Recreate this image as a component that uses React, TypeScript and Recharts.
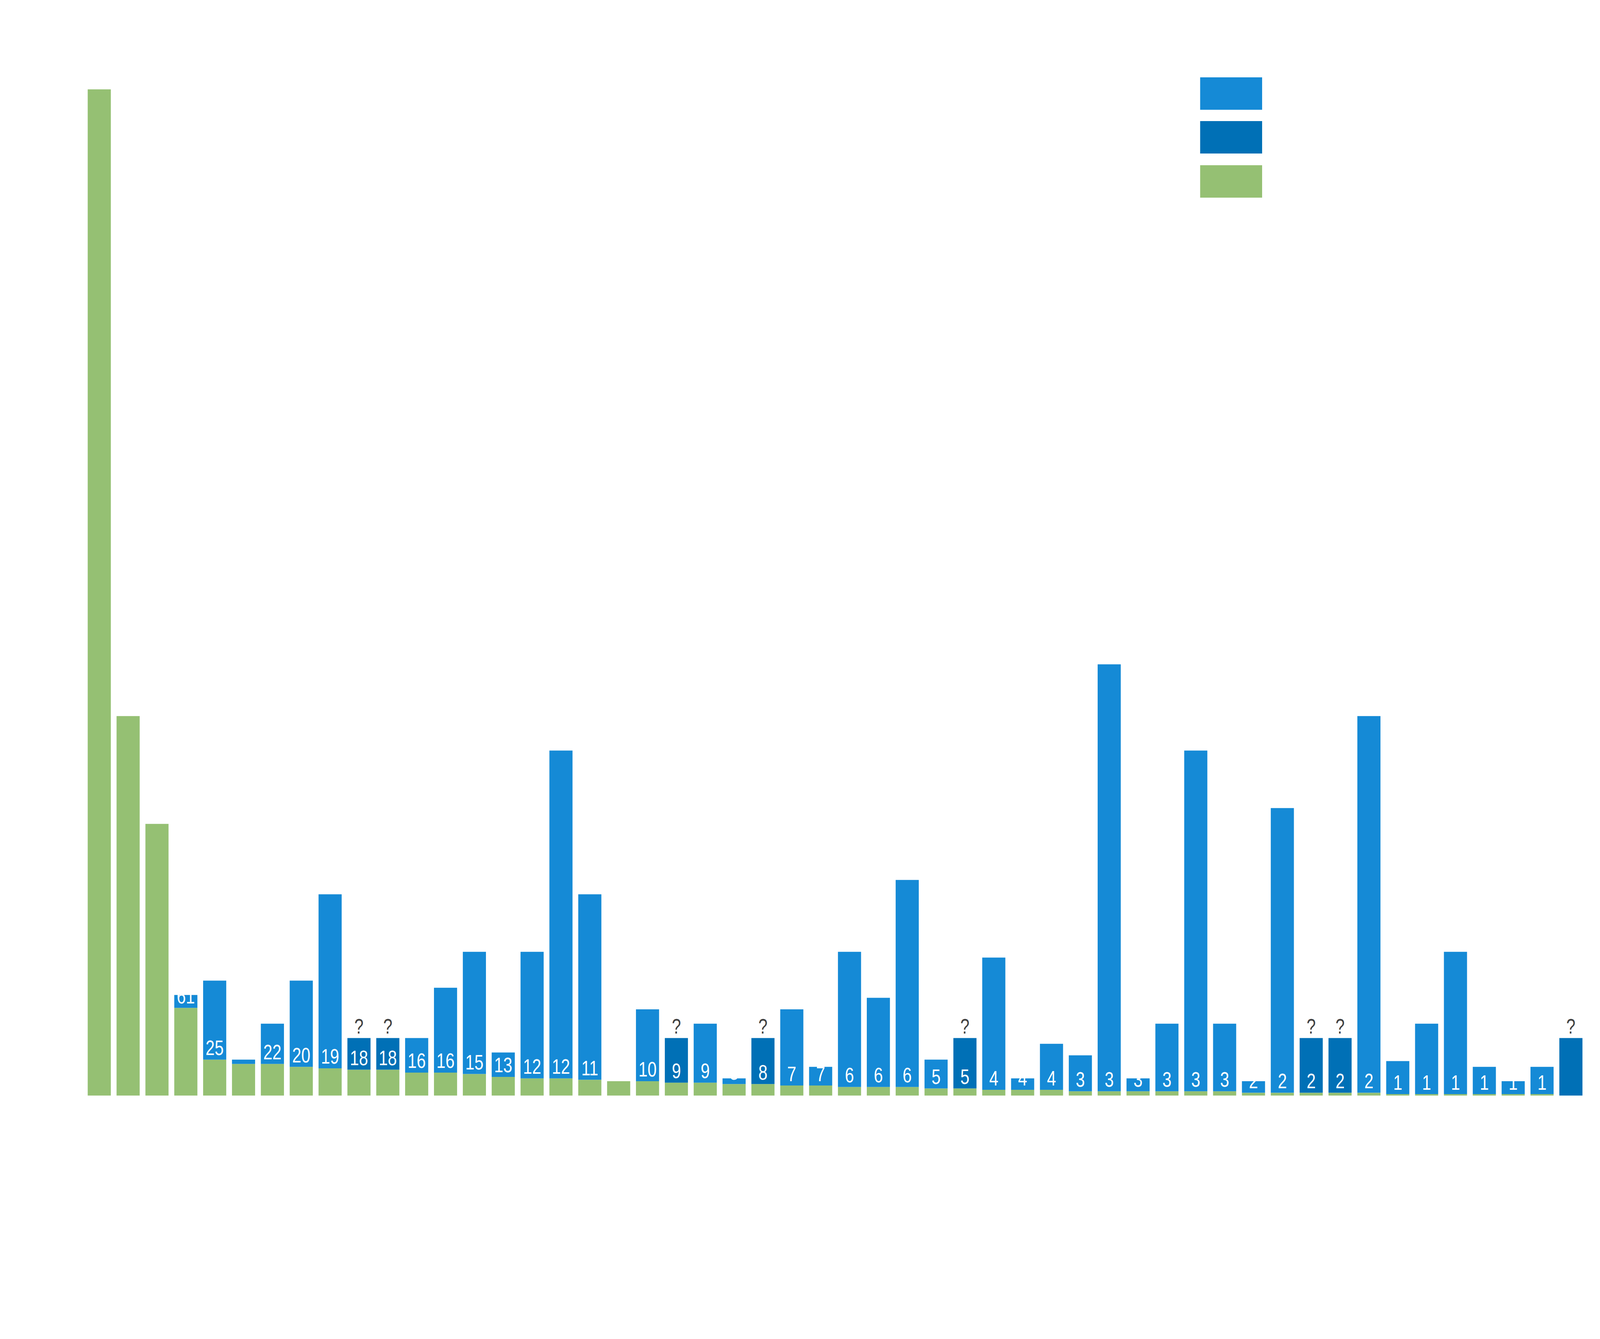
import React from 'react';
import { BarChart, Bar, XAxis, YAxis, Cell, LabelList, Legend } from 'recharts';

// ---- data ----
const categories = [
  '1', '2', '3', '4', '5', '6', '7', '8', '9', '10',
  '11', '12', '13', '14', '15', '16', '17', '18', '19', '20',
  '21', '22', '23', '24', '25', '26', '27', '28', '29', '30',
  '31', '32', '33', '34', '35', '36', '37', '38', '39', '40',
  '41', '42', '43', '44', '45', '46', '47', '48', '49', '50',
  '51', '52',
];

// lower (green) segment – also the value printed in each bar
const greenValues = [
  700, 264, 189, 61, 25, 22, 22, 20, 19, 18,
  18, 16, 16, 15, 13, 12, 12, 11, 10, 10,
  9, 9, 8, 8, 7, 7, 6, 6, 6, 5,
  5, 4, 4, 4, 3, 3, 3, 3, 3, 3,
  2, 2, 2, 2, 2, 1, 1, 1, 1, 1,
  1, 0,
];

// upper (blue) segment stacked on top
const blueValues = [
  0, 0, 0, 9, 55, 3, 28, 60, 121, 22,
  22, 24, 59, 85, 17, 88, 228, 129, 0, 50,
  31, 41, 4, 32, 53, 13, 94, 62, 144, 20,
  35, 92, 8, 32, 25, 297, 9, 47, 237, 47,
  8, 198, 38, 38, 262, 23, 49, 99, 19, 9,
  19, 40,
];

// bars drawn in dark blue with a "?" above
const uncertainFlags = [
  false, false, false, false, false, false, false, false, false, true,
  true, false, false, false, false, false, false, false, false, false,
  true, false, false, true, false, false, false, false, false, false,
  true, false, false, false, false, false, false, false, false, false,
  false, false, true, true, false, false, false, false, false, false,
  false, true,
];

const legendColors = ['#158AD6', '#0070B6', '#95C073'];

const GREEN = '#95C073';
const BLUE = '#158AD6';
const DARK = '#0070B6';
const FONT = '"Liberation Sans", Arial, Helvetica, sans-serif';

const data = categories.map((c, i) => ({
  cat: c,
  green: greenValues[i],
  blue: blueValues[i],
}));

// layout is designed on a 5190 x 3428 canvas, then fitted to the real viewport
const DESIGN_W = 5190;
const DESIGN_H = 3428;
const viewW = typeof window !== 'undefined' && window.innerWidth ? window.innerWidth : DESIGN_W;
const viewH = typeof window !== 'undefined' && window.innerHeight ? window.innerHeight : DESIGN_H;
const SX = Math.min(1, viewW / DESIGN_W);
const SY = Math.min(1, viewH / DESIGN_H);

const M_LEFT = 275.5;
const M_RIGHT = 47.3;
const M_TOP = 228.8;
const M_BOTTOM = 623.2;
const BAND = (DESIGN_W - M_LEFT - M_RIGHT) / categories.length;

const getBox = (props: any) => {
  const vb = props.viewBox && typeof props.viewBox.x === 'number' ? props.viewBox : props;
  return { x: Number(vb.x), y: Number(vb.y), width: Number(vb.width), height: Number(vb.height) };
};

// category of a label, from where its bar sits on the band scale
const indexOf = (cx: number) => {
  const i = Math.floor((cx - M_LEFT) / BAND);
  return Math.max(0, Math.min(categories.length - 1, i));
};

const GreenLabel = (props: any) => {
  const { x, y, width, height } = getBox(props);
  const cx = x + width / 2;
  const idx = indexOf(cx);
  const v = greenValues[idx];
  if (!v || !blueValues[idx]) return null;
  return (
    <text x={cx} y={y + height - 11.5} textAnchor="middle" fill="#ffffff" fontSize={53} fontFamily={FONT}>
      {v}
    </text>
  );
};

const QuestionLabel = (props: any) => {
  const { x, y, width } = getBox(props);
  const cx = x + width / 2;
  const idx = indexOf(cx);
  if (!uncertainFlags[idx]) return null;
  return (
    <text x={cx} y={y - 11.5} textAnchor="middle" fill="#404040" fontSize={53} fontFamily={FONT}>
      ?
    </text>
  );
};

const LegendBoxes = () => (
  <div style={{ position: 'relative', width: 201, height: 308 }}>
    {legendColors.map((c, i) => (
      <div
        key={c}
        style={{ position: 'absolute', left: 0, top: i * 112.5, width: 201, height: 83, background: c }}
      />
    ))}
  </div>
);

export default function App() {
  return (
    <div style={{ width: DESIGN_W * SX, height: DESIGN_H * SY, overflow: 'hidden', position: 'relative' }}>
      <style>{'html,body{margin:0;padding:0;overflow:hidden;background:#fff;}'}</style>
      <div
        style={{
          width: DESIGN_W,
          height: DESIGN_H,
          transform: `scale(${SX}, ${SY})`,
          transformOrigin: '0 0',
        }}
      >
        <BarChart
          width={DESIGN_W}
          height={DESIGN_H}
          data={data}
          margin={{ top: M_TOP, right: M_RIGHT, bottom: M_BOTTOM, left: M_LEFT }}
          barSize={75}
        >
          <XAxis dataKey="cat" hide />
          <YAxis hide domain={[0, 700]} />
          <Legend
            layout="vertical"
            align="center"
            verticalAlign="middle"
            content={() => <LegendBoxes />}
            wrapperStyle={{ left: 3893, top: 197.7, width: 201, height: 308 }}
          />
          <Bar dataKey="green" stackId="a" fill={GREEN} isAnimationActive={false} />
          <Bar dataKey="blue" stackId="a" fill={BLUE} isAnimationActive={false}>
            {data.map((d, i) => (
              <Cell key={d.cat} fill={uncertainFlags[i] ? DARK : BLUE} />
            ))}
            <LabelList dataKey="green" content={GreenLabel} />
            <LabelList dataKey="blue" content={QuestionLabel} />
          </Bar>
        </BarChart>
      </div>
    </div>
  );
}
